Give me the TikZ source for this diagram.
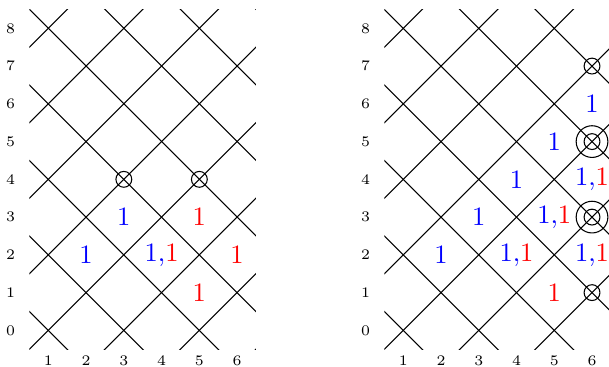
\documentclass[tikz,border=0pt]{standalone}
\usepackage{tikz}
\usetikzlibrary{positioning}
\tikzset{
  axlbl/.style={font=\fontsize{5.5}{6}\selectfont,inner sep=0pt},
  wt/.style={font=\normalsize,inner sep=0pt},
  ring/.style={circle,draw,minimum size=2.1mm,inner sep=0pt},
  bigring/.style={circle,draw,minimum size=4.2mm,inner sep=0pt},
}
\newcommand{\bw}{\textcolor{blue}{1}}
\newcommand{\rw}{\textcolor{red}{1}}
\newcommand{\bothw}{\textcolor{blue}{1,}\textcolor{red}{1}}

\begin{document}
\begin{tikzpicture}[x=0.5cm,y=0.5cm]
\useasboundingbox (-0.28,-0.945) rectangle (15.85,8.75);
% Left: lattice with two marked crossings
\begin{scope}
  \begin{scope}
    \clip (0.5,-0.5) rectangle (6.5,8.5);
    \foreach \c in {-9,-7,...,9}{\draw (\c-1,-1) -- (\c+10,10);}
    \foreach \c in {1,3,...,17}{\draw (\c+1,-1) -- (\c-10,10);}
  \end{scope}
  \foreach \i in {1,...,6}{\node[axlbl] (lx\i) at (\i,-0.81) {\i};}
  \foreach \j in {0,...,8}{\node[axlbl] (ly\j) at (0,\j) {\j};}
  \node[ring] (lc34) at (3,4) {};
  \node[ring] (lc54) at (5,4) {};
  \node[wt] (lw22) at (2,2) {\bw};
  \node[wt] (lw33) at (3,3) {\bw};
  \node[wt] (lw42) at (4,2) {\bothw};
  \node[wt] (lw53) at (5,3) {\rw};
  \node[wt] (lw62) at (6,2) {\rw};
  \node[wt] (lw51) at (5,1) {\rw};
\end{scope}
% Right: lattice with rings along column 6
\begin{scope}[xshift=4.7cm]
  \begin{scope}
    \clip (0.5,-0.5) rectangle (7.5,8.5);
    \foreach \c in {-9,-7,...,9}{\draw (\c-1,-1) -- (\c+10,10);}
    \foreach \c in {1,3,...,17}{\draw (\c+1,-1) -- (\c-10,10);}
  \end{scope}
  \foreach \i in {1,...,6}{\node[axlbl] (rx\i) at (\i,-0.81) {\i};}
  \foreach \j in {0,...,8}{\node[axlbl] (ry\j) at (0,\j) {\j};}
  \node[ring] (rc67) at (6,7) {};
  \node[ring] (rc65) at (6,5) {};
  \node[bigring] (rC65) at (6,5) {};
  \node[ring] (rc63) at (6,3) {};
  \node[bigring] (rC63) at (6,3) {};
  \node[ring] (rc61) at (6,1) {};
  \foreach \k in {2,...,6}{\node[wt] (rw\k) at (\k,\k) {\bw};}
  \node[wt] (rw42) at (4,2) {\bothw};
  \node[wt] (rw53) at (5,3) {\bothw};
  \node[wt] (rw64) at (6,4) {\bothw};
  \node[wt] (rw62) at (6,2) {\bothw};
  \node[wt] (rw51) at (5,1) {\rw};
\end{scope}
\end{tikzpicture}
\end{document}
